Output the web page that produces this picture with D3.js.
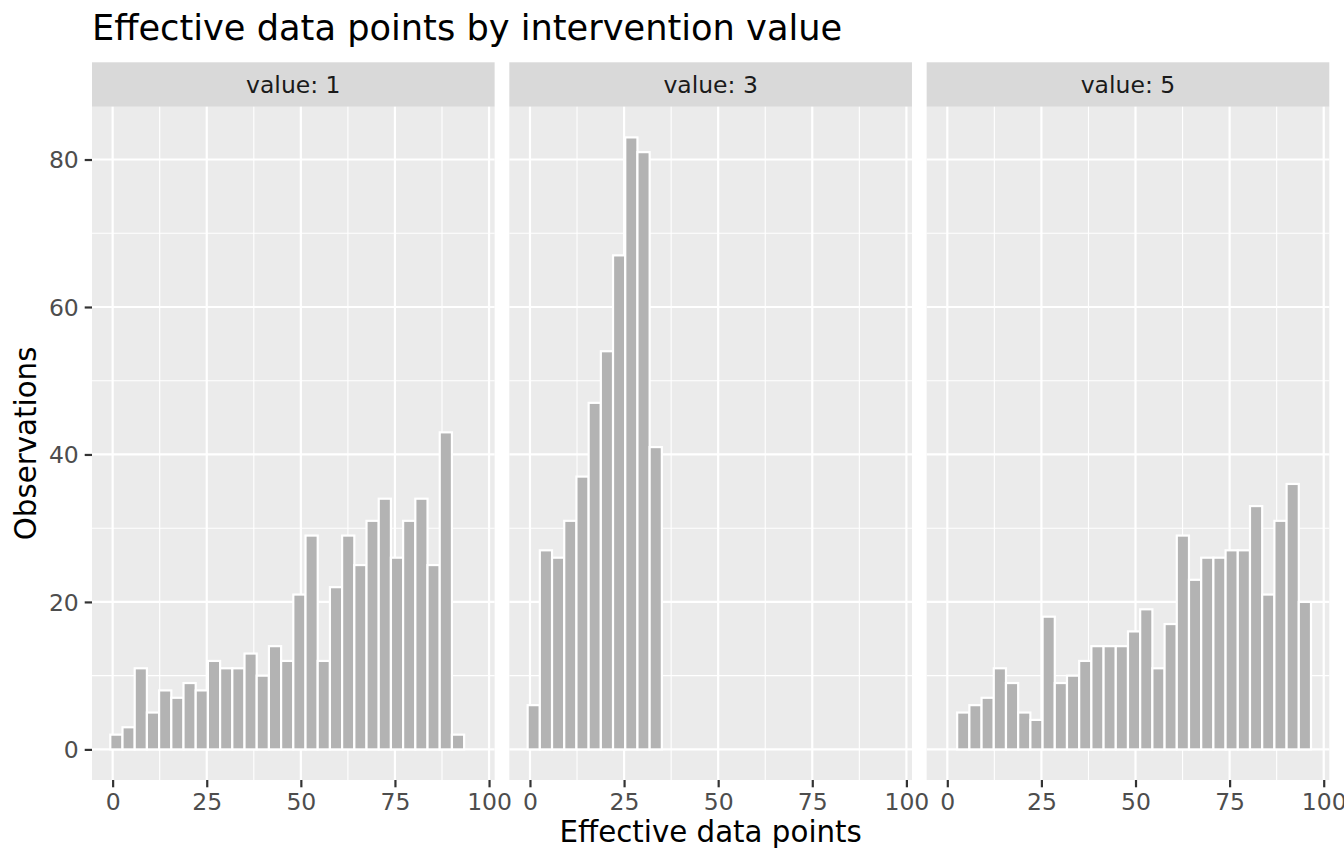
<!DOCTYPE html>
<html>
<head>
<meta charset="utf-8">
<script src="https://cdn.jsdelivr.net/npm/d3@7"></script>
<style>
  html, body { margin: 0; padding: 0; background: #ffffff; }
  svg { display: block; font-family: "DejaVu Sans", sans-serif; }
</style>
</head>
<body>
<svg id="chart" width="1344" height="864"></svg>
<script>
// ---- data ----
const panelLabels = ["value: 1", "value: 3", "value: 5"];
// histogram bins (30 bins spanning data from 1 to 95)
const dataMin = 1;
const dataMax = 95;
const binCount = 30;
// observation counts per bin, for each intervention value
const countsValue1 = [2, 3, 11, 5, 8, 7, 9, 8, 12, 11, 11, 13, 10, 14, 12, 21, 29, 12, 22, 29, 25, 31, 34, 26, 31, 34, 25, 43, 2, 0];
const countsValue3 = [6, 27, 26, 31, 37, 47, 54, 67, 83, 81, 41, 0, 0, 0, 0, 0, 0, 0, 0, 0, 0, 0, 0, 0, 0, 0, 0, 0, 0, 0];
const countsValue5 = [0, 5, 6, 7, 11, 9, 5, 4, 18, 9, 10, 12, 14, 14, 14, 16, 19, 11, 17, 29, 23, 26, 26, 27, 27, 33, 21, 31, 36, 20];
const xTicks = [0, 25, 50, 75, 100];
const xMinor = [12.5, 37.5, 62.5, 87.5];
const yTicks = [0, 20, 40, 60, 80];
const yMinor = [10, 30, 50, 70];
const titleText = "Effective data points by intervention value";
const xTitle = "Effective data points";
const yTitle = "Observations";

// ---- layout ----
const W = 1344, H = 864;
const plotLeft = 92, plotRight = 1329.3;
const panelGap = 14.7;
const stripTop = 62.3, stripBottom = 106.8;
const panelTop = stripBottom, panelBottom = 780;
const panelW = (plotRight - plotLeft - 2 * panelGap) / 3;

const allCounts = [countsValue1, countsValue3, countsValue5];
const binWidth = (dataMax - dataMin) / (binCount - 1);
const bins = allCounts.map(cs => cs.map((c, i) => ({
  x0: dataMin - binWidth / 2 + i * binWidth,
  x1: dataMin + binWidth / 2 + i * binWidth,
  count: c
})));

const xLo = dataMin - binWidth / 2, xHi = dataMax + binWidth / 2;
const xPad = (xHi - xLo) * 0.05;
const yMax = d3.max(allCounts.flat());
const yPad = yMax * 0.05;

const y = d3.scaleLinear().domain([-yPad, yMax + yPad]).range([panelBottom, panelTop]);

const svg = d3.select("#chart");
svg.append("rect").attr("width", W).attr("height", H).attr("fill", "#ffffff");

// title
svg.append("text")
  .attr("x", plotLeft).attr("y", 40)
  .attr("font-size", 35.2).attr("fill", "#000000")
  .text(titleText);

const majorW = 2.2, minorW = 1.1;

panelLabels.forEach((lab, p) => {
  const left = plotLeft + p * (panelW + panelGap);
  const x = d3.scaleLinear().domain([xLo - xPad, xHi + xPad]).range([left, left + panelW]);
  const g = svg.append("g");

  // strip
  g.append("rect").attr("x", left).attr("y", stripTop)
    .attr("width", panelW).attr("height", stripBottom - stripTop).attr("fill", "#d9d9d9");
  g.append("text").attr("x", left + panelW / 2).attr("y", (stripTop + stripBottom) / 2)
    .attr("dy", "0.36em").attr("text-anchor", "middle")
    .attr("font-size", 23.5).attr("fill", "#1a1a1a").text(lab);

  // panel background
  g.append("rect").attr("x", left).attr("y", panelTop)
    .attr("width", panelW).attr("height", panelBottom - panelTop).attr("fill", "#ebebeb");

  // minor grid
  g.selectAll(".ymin").data(yMinor).join("line")
    .attr("x1", left).attr("x2", left + panelW)
    .attr("y1", d => y(d)).attr("y2", d => y(d))
    .attr("stroke", "#ffffff").attr("stroke-width", minorW);
  g.selectAll(".xmin").data(xMinor).join("line")
    .attr("y1", panelTop).attr("y2", panelBottom)
    .attr("x1", d => x(d)).attr("x2", d => x(d))
    .attr("stroke", "#ffffff").attr("stroke-width", minorW);
  // major grid
  g.selectAll(".ymaj").data(yTicks).join("line")
    .attr("x1", left).attr("x2", left + panelW)
    .attr("y1", d => y(d)).attr("y2", d => y(d))
    .attr("stroke", "#ffffff").attr("stroke-width", majorW);
  g.selectAll(".xmaj").data(xTicks).join("line")
    .attr("y1", panelTop).attr("y2", panelBottom)
    .attr("x1", d => x(d)).attr("x2", d => x(d))
    .attr("stroke", "#ffffff").attr("stroke-width", majorW);

  // bars
  g.selectAll(".bar").data(bins[p].filter(b => b.count > 0)).join("rect")
    .attr("x", d => x(d.x0)).attr("width", d => x(d.x1) - x(d.x0))
    .attr("y", d => y(d.count)).attr("height", d => y(0) - y(d.count))
    .attr("fill", "#b3b3b3").attr("stroke", "#ffffff").attr("stroke-width", majorW);

  // x axis
  const xa = g.append("g").attr("transform", `translate(0,${panelBottom})`)
    .call(d3.axisBottom(x).tickValues(xTicks).tickSize(7.3).tickPadding(6).tickFormat(d3.format("d")));
  xa.select(".domain").remove();
  xa.selectAll(".tick line").attr("stroke", "#333333").attr("stroke-width", majorW);
  xa.selectAll(".tick text").attr("fill", "#4d4d4d").attr("font-size", 23.5)
    .attr("font-family", "DejaVu Sans, sans-serif").attr("dy", "0.71em");

  // y axis on first panel
  if (p === 0) {
    const ya = g.append("g").attr("transform", `translate(${left},0)`)
      .call(d3.axisLeft(y).tickValues(yTicks).tickSize(7.3).tickPadding(5.9).tickFormat(d3.format("d")));
    ya.select(".domain").remove();
    ya.selectAll(".tick line").attr("stroke", "#333333").attr("stroke-width", majorW);
    ya.selectAll(".tick text").attr("fill", "#4d4d4d").attr("font-size", 23.5)
      .attr("font-family", "DejaVu Sans, sans-serif").attr("dy", "0.35em");
  } else {
    const ya = g.append("g").attr("transform", `translate(${left},0)`)
      .call(d3.axisLeft(y).tickValues(yTicks).tickSize(0).tickFormat(""));
    ya.select(".domain").remove();
  }
});

// axis titles
svg.append("text")
  .attr("x", (plotLeft + plotRight) / 2).attr("y", 842)
  .attr("text-anchor", "middle").attr("font-size", 29.3).attr("fill", "#000000")
  .text(xTitle);
svg.append("text")
  .attr("transform", `translate(36,${(panelTop + panelBottom) / 2}) rotate(-90)`)
  .attr("text-anchor", "middle").attr("font-size", 29.3).attr("fill", "#000000")
  .text(yTitle);
</script>
</body>
</html>
